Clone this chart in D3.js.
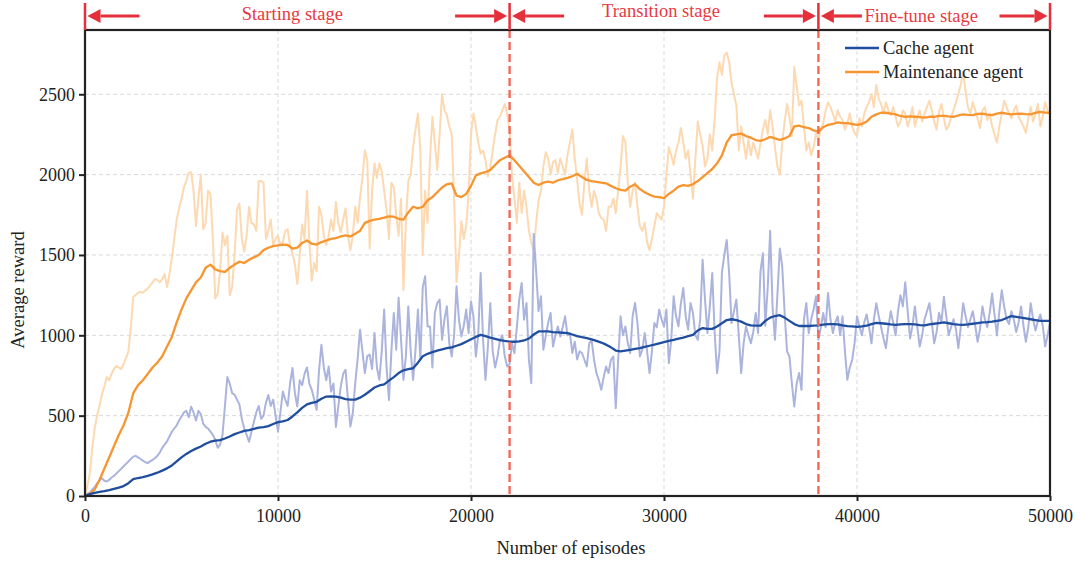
<!DOCTYPE html>
<html>
<head>
<meta charset="utf-8">
<script src="https://cdn.jsdelivr.net/npm/d3@7"></script>
<style>
  html, body { margin: 0; padding: 0; background: #fff; }
  svg { display: block; font-family: "Liberation Serif", "Times New Roman", serif; }
</style>
</head>
<body>
<svg id="chart" width="1080" height="565"></svg>
<script>
// Episode spacing of the logged reward curves
const rawStep = 125;
const smoothStep = 250;

// Per-window average reward (raw, every 125 episodes; one row = 2500 episodes)
const maintenanceRaw = [
  0,60,140,300,420,500,560,630,680,740,720,760,790,810,800,790,820,860,900,1050,
  1240,1250,1265,1270,1265,1280,1290,1310,1330,1350,1345,1330,1350,1380,1300,1380,1480,1600,1720,1790,
  1850,1920,1960,2010,2015,1900,1680,1850,2000,1660,1700,1900,1880,1600,1230,1260,1400,1640,1560,1620,
  1250,1300,1500,1780,1820,1600,1520,1620,1800,1700,1690,1650,1960,1960,1950,1600,1650,1720,1560,1600,
  1620,1560,1580,1650,1660,1560,1510,1440,1320,1500,1690,1600,1900,1580,1340,1450,1400,1800,1750,1620,
  1560,1620,1720,1650,1830,1700,1640,1720,1790,1620,1530,1620,1800,1700,1860,1980,2150,2090,1540,1900,
  2070,1980,2070,2020,1900,1780,1600,1950,1920,1750,1620,1850,1280,1700,1960,2000,2170,2280,2380,2150,
  1500,1900,1700,2100,2360,2200,2030,2250,2500,2400,2370,2300,2250,1850,1330,1500,1710,1600,1680,1880,
  2250,2380,2300,2200,2130,2150,2090,1990,2050,2150,2250,2340,2360,2400,2440,2380,2270,1990,1850,1700,
  1950,1760,1900,1800,1650,1580,1530,1700,1840,1900,2050,2140,2100,2000,2080,2090,2010,2100,2050,2000,
  2120,2200,2280,2100,1970,1820,1750,1950,2100,1900,1800,1900,1850,1760,1730,1720,1650,1800,1800,1850,
  1760,1900,2050,2240,2200,1950,1800,1900,1950,1800,1680,1650,1700,1580,1530,1600,1680,1760,1740,1720,
  1800,2000,2170,2120,2060,2150,2200,2290,2200,2100,2150,2000,1850,2100,2330,2250,2180,2050,2100,2250,
  2150,2350,2600,2700,2620,2740,2760,2700,2570,2500,2430,2150,2300,2200,2100,2220,2120,2200,2150,2100,
  2195,2280,2341,2250,2400,2300,2170,2050,2000,2200,2330,2440,2360,2240,2670,2550,2430,2460,2300,2150,
  2200,2120,2170,2260,2216,2280,2320,2400,2450,2420,2380,2330,2400,2360,2340,2280,2320,2380,2300,2260,
  2240,2350,2300,2380,2420,2450,2500,2420,2560,2470,2440,2380,2450,2400,2370,2420,2360,2300,2330,2400,
  2380,2300,2350,2420,2300,2360,2400,2330,2380,2420,2460,2400,2330,2280,2390,2440,2350,2280,2300,2360,
  2400,2450,2500,2560,2640,2520,2420,2380,2450,2400,2350,2290,2400,2420,2340,2380,2300,2250,2200,2300,
  2380,2460,2420,2380,2350,2400,2430,2360,2330,2300,2260,2350,2420,2330,2380,2440,2300,2360,2450,2400,
  2370
];

const cacheRaw = [
  0,15,20,40,55,80,95,110,95,90,100,115,125,140,155,170,185,200,215,230,
  245,250,240,230,220,210,205,215,225,235,250,270,300,320,340,370,400,420,440,470,
  495,520,530,490,555,520,470,530,510,450,430,420,400,380,350,300,320,380,560,740,
  700,640,630,600,570,480,420,380,338,400,460,520,560,480,500,580,629,560,600,500,
  400,520,650,600,560,700,796,640,557,720,690,760,800,700,661,600,536,780,941,800,
  720,806,650,700,430,560,681,760,785,600,432,515,700,850,1035,900,765,870,880,790,
  1014,800,723,900,1160,800,598,900,1139,910,1233,972,723,868,1180,900,723,910,1160,850,
  1300,1367,1055,1055,800,1139,1200,1222,972,1100,1180,950,868,1000,1305,1100,993,1060,1160,1014,
  1211,1118,868,1000,1388,972,723,930,1201,900,800,868,970,1000,868,806,820,950,889,1050,
  1222,1326,1097,1201,850,702,1630,1400,1150,1243,910,1000,1080,1139,930,1000,1055,993,1050,1118,
  1000,1014,890,960,850,900,890,848,806,950,970,848,765,720,661,740,806,765,848,868,
  546,848,1118,1000,1055,950,889,1120,1201,1076,868,910,1014,900,765,900,1076,1050,1160,1100,
  1055,1160,827,972,1243,1118,1055,1200,1294,1118,1035,1201,1139,1000,972,1100,1471,1222,1014,1180,
  1388,1014,765,900,1388,1500,1593,1388,1076,1150,1222,1000,765,950,1055,1000,951,1020,1139,1014,
  1400,1510,1060,1300,1650,1180,972,1250,1540,1430,1139,900,868,700,557,700,765,661,1100,1201,
  1014,1100,1160,1243,972,1050,1139,1050,1264,1100,1014,1080,1118,1000,1118,900,723,800,848,951,
  1118,1055,1000,1080,1130,1050,950,1100,1200,1120,1050,980,920,1050,1150,1080,1000,1150,1250,1180,
  1330,1150,980,1060,1180,1050,930,1000,1100,1150,1200,1080,950,1020,1140,1080,1240,1120,1000,1050,
  1100,1040,920,1050,1200,1120,1050,1100,1150,1060,960,1040,1180,1100,1050,1140,1260,1130,1000,1150,
  1280,1180,1100,1070,1150,1100,1020,1080,1180,1060,960,1050,1200,1100,1030,1090,1130,1060,930,1000,
  1080
];

// Moving-average reward (every 250 episodes; one row = 5000 episodes)
const maintenanceSmooth = [
  0,15,40,100,170,240,310,380,440,520,640,690,720,760,800,830,870,930,990,1080,
  1160,1230,1280,1330,1360,1420,1440,1410,1400,1395,1420,1440,1458,1450,1470,1485,1500,1530,1545,1555,
  1560,1565,1562,1540,1545,1575,1590,1570,1565,1580,1590,1600,1605,1615,1622,1615,1632,1650,1700,1712,
  1720,1725,1732,1740,1738,1725,1720,1765,1800,1790,1800,1840,1860,1890,1920,1940,1945,1870,1860,1880,
  1930,1995,2008,2015,2029,2060,2090,2105,2120,2090,2055,2020,1985,1950,1935,1950,1956,1950,1965,1972,
  1980,1990,2005,1985,1967,1960,1955,1950,1946,1930,1915,1905,1900,1925,1940,1910,1890,1875,1863,1860,
  1853,1880,1900,1925,1935,1930,1940,1960,1985,2010,2035,2070,2120,2200,2245,2250,2255,2240,2230,2215,
  2210,2220,2235,2225,2216,2225,2240,2300,2305,2295,2290,2275,2268,2295,2310,2315,2325,2320,2320,2315,
  2310,2315,2330,2360,2375,2385,2385,2380,2375,2365,2360,2362,2360,2358,2355,2360,2360,2365,2365,2362,
  2360,2368,2375,2372,2370,2378,2380,2374,2370,2380,2385,2380,2375,2378,2380,2376,2375,2385,2390,2386,
  2385
];

const cacheSmooth = [
  0,12,20,25,30,36,44,52,62,80,105,112,118,125,135,145,158,172,190,215,
  240,262,280,295,308,325,338,345,348,358,370,385,395,405,410,418,425,428,435,448,
  460,465,473,495,520,548,570,580,586,605,619,620,619,612,603,600,600,612,630,652,
  675,688,695,718,740,765,782,790,795,830,870,885,895,905,912,920,925,935,945,960,
  975,990,1003,995,986,978,970,965,961,960,962,968,980,1005,1024,1025,1024,1020,1018,1016,
  1014,1005,995,988,982,975,965,955,942,925,905,900,905,910,915,920,928,935,942,950,
  958,965,972,980,986,995,1003,1030,1045,1040,1040,1055,1075,1095,1100,1095,1085,1070,1062,1060,
  1060,1090,1110,1120,1125,1110,1090,1070,1058,1058,1058,1060,1062,1066,1070,1070,1068,1062,1057,1055,
  1052,1055,1060,1070,1078,1075,1072,1068,1065,1068,1070,1069,1068,1064,1062,1068,1072,1076,1080,1075,
  1070,1066,1065,1068,1072,1076,1080,1082,1085,1090,1095,1108,1120,1115,1110,1105,1100,1095,1090,1090,
  1090
];

const xTicks = [0, 10000, 20000, 30000, 40000, 50000];
const yTicks = [0, 500, 1000, 1500, 2000, 2500];
const stageBounds = [0, 22000, 38000, 50000];
const stageNames = ["Starting stage", "Transition stage", "Fine-tune stage"];
const seriesNames = ["Cache agent", "Maintenance agent"];

// ---- layout ----
const W = 1080, H = 565;
const margin = { top: 30, right: 30, bottom: 69, left: 85 };
const x = d3.scaleLinear().domain([0, 50000]).range([margin.left, W - margin.right]);
const y = d3.scaleLinear().domain([0, 2900]).range([H - margin.bottom, margin.top]);

const colors = {
  cache: "#1f4e9f", cacheLight: "#abb4dd",
  maint: "#f7952f", maintLight: "#fdd9b2",
  stage: "#f26a55", arrow: "#e3303a", text: "#e8393f"
};

const svg = d3.select("#chart");

// grid
const grid = svg.append("g");
grid.selectAll("line.gx").data(xTicks.filter(t => t > 0 && t < 50000)).join("line")
  .attr("x1", d => x(d)).attr("x2", d => x(d))
  .attr("y1", y.range()[0]).attr("y2", y.range()[1])
  .attr("stroke", "#d9d9d9").attr("stroke-width", 1).attr("stroke-dasharray", "4,3");
grid.selectAll("line.gy").data(yTicks.filter(t => t > 0)).join("line")
  .attr("x1", x.range()[0]).attr("x2", x.range()[1])
  .attr("y1", d => y(d)).attr("y2", d => y(d))
  .attr("stroke", "#d9d9d9").attr("stroke-width", 1).attr("stroke-dasharray", "4,3");

// curves
const lineFor = step => d3.line().x((d, i) => x(i * step)).y(d => y(d));
const plot = svg.append("g");
plot.append("path").datum(maintenanceRaw).attr("d", lineFor(rawStep))
  .attr("fill", "none").attr("stroke", colors.maintLight).attr("stroke-width", 2).attr("stroke-linejoin", "round");
plot.append("path").datum(cacheRaw).attr("d", lineFor(rawStep))
  .attr("fill", "none").attr("stroke", colors.cacheLight).attr("stroke-width", 2).attr("stroke-linejoin", "round");
plot.append("path").datum(maintenanceSmooth).attr("d", lineFor(smoothStep))
  .attr("fill", "none").attr("stroke", colors.maint).attr("stroke-width", 2.3).attr("stroke-linejoin", "round");
plot.append("path").datum(cacheSmooth).attr("d", lineFor(smoothStep))
  .attr("fill", "none").attr("stroke", colors.cache).attr("stroke-width", 2.3).attr("stroke-linejoin", "round");

// stage boundaries
svg.append("g").selectAll("line").data(stageBounds.slice(1, -1)).join("line")
  .attr("x1", d => x(d)).attr("x2", d => x(d))
  .attr("y1", y.range()[1]).attr("y2", y.range()[0])
  .attr("stroke", colors.stage).attr("stroke-width", 2.4).attr("stroke-dasharray", "8,4");

// axes
const xAxis = d3.axisBottom(x).tickValues(xTicks).tickFormat(d3.format("d")).tickSize(5).tickPadding(8);
const yAxis = d3.axisLeft(y).tickValues(yTicks).tickFormat(d3.format("d")).tickSize(6).tickPadding(4);
const gx = svg.append("g").attr("transform", `translate(0,${y.range()[0]})`).call(xAxis);
const gy = svg.append("g").attr("transform", `translate(${x.range()[0]},0)`).call(yAxis);
[gx, gy].forEach(g => {
  g.select(".domain").remove();
  g.selectAll(".tick line").attr("stroke", "#222").attr("stroke-width", 2);
  g.selectAll(".tick text").attr("fill", "#222").style("font-size", "18px")
    .style("font-family", '"Liberation Serif", "Times New Roman", serif');
});

// frame
svg.append("rect")
  .attr("x", x.range()[0]).attr("y", y.range()[1])
  .attr("width", x.range()[1] - x.range()[0]).attr("height", y.range()[0] - y.range()[1])
  .attr("fill", "none").attr("stroke", "#222").attr("stroke-width", 2.2);

// axis titles
svg.append("text").attr("x", 571).attr("y", 554).attr("text-anchor", "middle")
  .attr("fill", "#222").style("font-size", "18.5px").text("Number of episodes");
svg.append("text").attr("transform", "translate(18,290) rotate(-90)").attr("dy", "0.35em")
  .attr("text-anchor", "middle").attr("fill", "#222").style("font-size", "18.5px").text("Average reward");

// legend
const legend = svg.append("g");
const legendItems = [
  { name: seriesNames[0], color: colors.cache, yy: 48 },
  { name: seriesNames[1], color: colors.maint, yy: 72 }
];
legendItems.forEach(it => {
  legend.append("line").attr("x1", 845).attr("x2", 879).attr("y1", it.yy).attr("y2", it.yy)
    .attr("stroke", it.color).attr("stroke-width", 2.3);
  legend.append("text").attr("x", 883).attr("y", it.yy + 6).attr("fill", "#222")
    .style("font-size", "18.5px").text(it.name);
});

// stage annotations above the frame
const ann = svg.append("g");
const arrowY = 16;
const textShift = [-5, -3, -13];
const textBase = [20, 17, 22];
const arrowLen = [[52, 52], [52, 52], [41, 48]];
stageBounds.forEach(b => {
  ann.append("line").attr("x1", x(b)).attr("x2", x(b)).attr("y1", 3).attr("y2", y.range()[1])
    .attr("stroke", colors.arrow).attr("stroke-width", 2.5);
});
function arrow(fromX, tipX) {
  const dir = Math.sign(tipX - fromX);
  const headL = 13, headH = 7;
  ann.append("line").attr("x1", fromX).attr("x2", tipX - dir * headL)
    .attr("y1", arrowY).attr("y2", arrowY)
    .attr("stroke", colors.arrow).attr("stroke-width", 3.2);
  ann.append("path")
    .attr("d", `M${tipX},${arrowY} L${tipX - dir * headL},${arrowY - headH} L${tipX - dir * headL},${arrowY + headH} Z`)
    .attr("fill", colors.arrow);
}
stageNames.forEach((name, i) => {
  const x0 = x(stageBounds[i]), x1 = x(stageBounds[i + 1]);
  const tipL = x0 + 2.5, tipR = x1 - 2.5;
  arrow(tipL + arrowLen[i][0], tipL);
  arrow(tipR - arrowLen[i][1], tipR);
  ann.append("text").attr("x", (x0 + x1) / 2 + textShift[i]).attr("y", textBase[i])
    .attr("text-anchor", "middle").attr("fill", colors.text).style("font-size", "18.5px").text(name);
});
</script>
</body>
</html>
